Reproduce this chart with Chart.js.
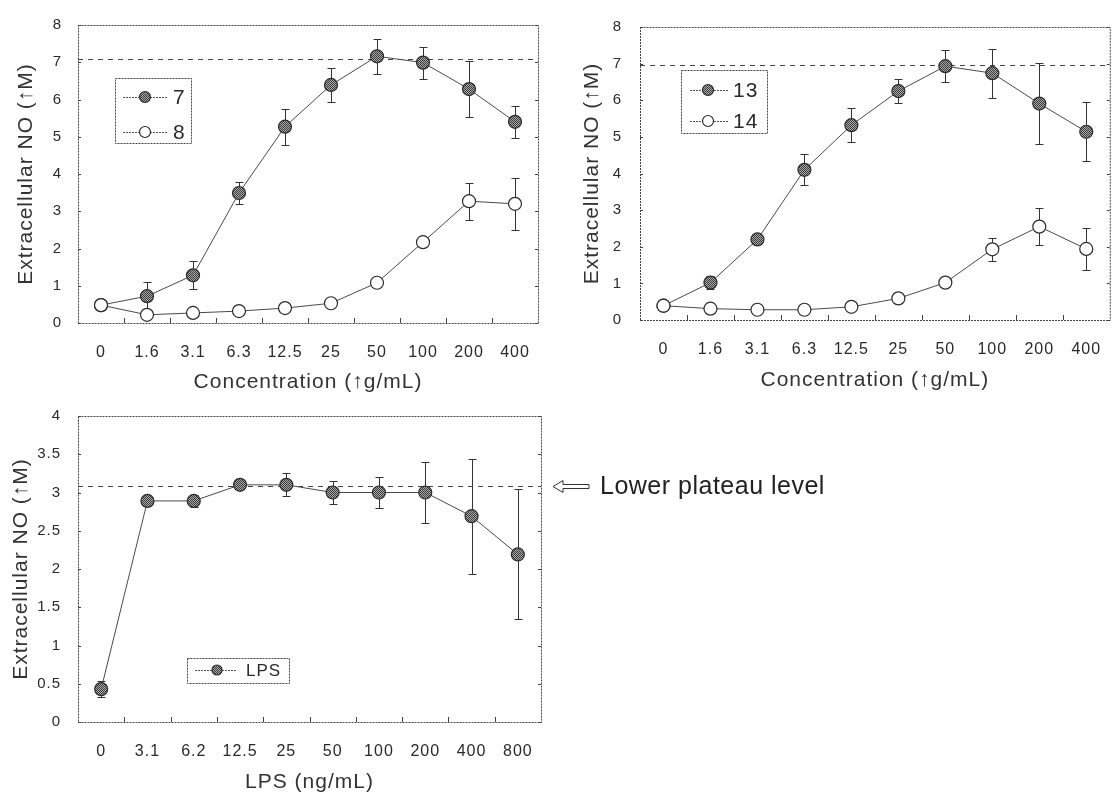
<!DOCTYPE html>
<html>
<head>
<meta charset="utf-8">
<script src="https://cdn.jsdelivr.net/npm/chart.js@4.4.1/dist/chart.umd.min.js"></script>
<style>
  html, body { margin: 0; padding: 0; background: #fff; }
  body { width: 1112px; height: 797px; overflow: hidden; position: relative; }
  canvas { position: absolute; }
</style>
</head>
<body>
<canvas id="c1" width="560" height="400" style="left:0;top:0"></canvas>
<canvas id="c2" width="560" height="400" style="left:560px;top:0"></canvas>
<canvas id="c3" width="900" height="407" style="left:0;top:390px"></canvas>
<script>
// ===== Data =====
const CONC_LABELS = ["0", "1.6", "3.1", "6.3", "12.5", "25", "50", "100", "200", "400"];
const LPS_LABELS = ["0", "3.1", "6.2", "12.5", "25", "50", "100", "200", "400", "800"];

const NO_7 = [0.48, 0.72, 1.28, 3.49, 5.27, 6.39, 7.16, 6.99, 6.28, 5.4];
const ERR_7 = [0, 0.37, 0.38, 0.3, 0.48, 0.45, 0.47, 0.43, 0.76, 0.43];
const NO_8 = [0.48, 0.22, 0.27, 0.32, 0.4, 0.53, 1.08, 2.17, 3.27, 3.2];
const ERR_8 = [0, 0, 0, 0, 0, 0, 0, 0, 0.5, 0.7];

const NO_13 = [0.39, 1.02, 2.2, 4.1, 5.32, 6.25, 6.93, 6.74, 5.91, 5.14];
const ERR_13 = [0, 0.18, 0.08, 0.42, 0.47, 0.33, 0.44, 0.67, 1.1, 0.81];
const NO_14 = [0.39, 0.31, 0.28, 0.28, 0.36, 0.59, 1.02, 1.93, 2.55, 1.94];
const ERR_14 = [0, 0, 0, 0, 0, 0, 0, 0.32, 0.5, 0.57];

const NO_LPS = [0.43, 2.89, 2.89, 3.1, 3.1, 3.0, 3.0, 3.0, 2.69, 2.19];
const ERR_LPS = [0.1, 0.07, 0.08, 0.04, 0.15, 0.15, 0.2, 0.4, 0.75, 0.85];

const REF_A = 7.08;    // dashed plateau line, compounds 7/8
const REF_B = 6.95;    // compounds 13/14
const REF_LPS = 3.08;  // lower plateau level

const FONT = "'Liberation Sans', Arial, sans-serif";
const TICK_FONT = "'Liberation Sans Narrow', 'Liberation Sans', Arial, sans-serif";
const INK = "#2a2a2a";

// ===== Marker fill (scanned hatch look) =====
function hatch() {
  const c = document.createElement("canvas");
  c.width = 4; c.height = 4;
  const g = c.getContext("2d");
  g.fillStyle = "#a8a8a8";
  g.fillRect(0, 0, 4, 4);
  g.fillStyle = "#3c3c3c";
  for (let i = 0; i < 4; i++) {
    g.fillRect(i, i, 1, 1);
    g.fillRect(i, (i + 2) % 4, 1, 1);
  }
  return g.createPattern(c, "repeat");
}
const HATCH = hatch();

// ===== Plugins =====
const spacing = {
  id: "spacing",
  beforeDraw(chart) { chart.ctx.letterSpacing = "1px"; },
};

// frame, inner ticks, dashed reference line and error bars
const frame = {
  id: "frame",
  beforeDatasetsDraw(chart, args, o) {
    const { ctx, chartArea: a, scales: { x, y } } = chart;
    ctx.save();
    ctx.strokeStyle = "#444";
    ctx.lineWidth = 1;
    ctx.setLineDash([2, 1]);
    ctx.strokeRect(a.left + 0.5, a.top + 0.5, a.width, a.height);
    ctx.setLineDash([]);

    ctx.beginPath();
    y.ticks.forEach((t) => {
      const py = Math.round(y.getPixelForValue(t.value)) + 0.5;
      ctx.moveTo(a.left, py); ctx.lineTo(a.left + 3, py);
      ctx.moveTo(a.right, py); ctx.lineTo(a.right - 3, py);
    });
    for (let i = 0; i < x.ticks.length - 1; i++) {
      const px = Math.round((x.getPixelForValue(i) + x.getPixelForValue(i + 1)) / 2) + 0.5;
      ctx.moveTo(px, a.bottom); ctx.lineTo(px, a.bottom - 5);
    }
    ctx.stroke();

    const ry = Math.round(y.getPixelForValue(o.ref)) + 0.5;
    ctx.setLineDash([5, 5]);
    ctx.beginPath();
    ctx.moveTo(a.left, ry); ctx.lineTo(a.right, ry);
    ctx.stroke();
    ctx.setLineDash([]);

    ctx.strokeStyle = "#333";
    chart.data.datasets.forEach((ds, di) => {
      const meta = chart.getDatasetMeta(di);
      (ds.errors || []).forEach((e, i) => {
        if (!e) return;
        const px = Math.round(meta.data[i].x) + 0.5;
        const top = Math.round(y.getPixelForValue(ds.data[i] + e)) + 0.5;
        const bot = Math.round(y.getPixelForValue(ds.data[i] - e)) + 0.5;
        ctx.beginPath();
        ctx.moveTo(px, top); ctx.lineTo(px, bot);
        ctx.moveTo(px - 4, top); ctx.lineTo(px + 4, top);
        ctx.moveTo(px - 4, bot); ctx.lineTo(px + 4, bot);
        ctx.stroke();
      });
    });
    ctx.restore();
  },
};

// boxed legend inside the plot
const boxLegend = {
  id: "boxLegend",
  afterDatasetsDraw(chart, args, o) {
    const { ctx, chartArea: a } = chart;
    const bx = Math.round(a.left + o.x), by = Math.round(a.top + o.y);
    ctx.save();
    ctx.fillStyle = "#fff";
    ctx.fillRect(bx, by, o.w, o.h);
    ctx.strokeStyle = "#444";
    ctx.lineWidth = 1;
    ctx.setLineDash([2, 1]);
    ctx.strokeRect(bx + 0.5, by + 0.5, o.w, o.h);
    chart.data.datasets.forEach((ds, i) => {
      const ry = by + o.rows[i];
      ctx.setLineDash([2, 1]);
      ctx.strokeStyle = "#555";
      ctx.lineWidth = 1;
      ctx.beginPath();
      ctx.moveTo(bx + o.line[0], ry + 0.5);
      ctx.lineTo(bx + o.line[1], ry + 0.5);
      ctx.stroke();
      ctx.setLineDash([]);
      ctx.beginPath();
      ctx.arc(bx + o.mark, ry, o.r, 0, Math.PI * 2);
      ctx.fillStyle = ds.pointBackgroundColor;
      ctx.fill();
      ctx.strokeStyle = ds.pointBorderColor;
      ctx.lineWidth = ds.pointBorderWidth;
      ctx.stroke();
      ctx.fillStyle = INK;
      ctx.font = o.font + "px " + FONT;
      ctx.textBaseline = "middle";
      ctx.fillText(ds.label, bx + o.text, ry + 1);
    });
    ctx.restore();
  },
};

// "Lower plateau level" note with hollow arrow
const plateauNote = {
  id: "plateauNote",
  afterDraw(chart, args, o) {
    if (!o.text) return;
    const { ctx, scales: { y } } = chart;
    const cy = Math.round(y.getPixelForValue(o.ref)) + 0.5;
    const x0 = o.x;
    ctx.save();
    ctx.strokeStyle = "#333";
    ctx.fillStyle = "#fff";
    ctx.lineWidth = 1;
    ctx.beginPath();
    ctx.moveTo(x0, cy);
    ctx.lineTo(x0 + 10, cy - 6);
    ctx.lineTo(x0 + 10, cy - 2);
    ctx.lineTo(x0 + 36, cy - 2);
    ctx.lineTo(x0 + 36, cy + 2);
    ctx.lineTo(x0 + 10, cy + 2);
    ctx.lineTo(x0 + 10, cy + 6);
    ctx.closePath();
    ctx.fill();
    ctx.stroke();
    ctx.letterSpacing = "0.5px";
    ctx.fillStyle = "#222";
    ctx.font = o.size + "px " + FONT;
    ctx.textBaseline = "middle";
    ctx.fillText(o.text, x0 + 47, cy + 1);
    ctx.restore();
  },
};

// ===== Builders =====
function series(label, data, errors, filled) {
  return {
    label, data, errors,
    borderColor: "#4a4a4a",
    borderWidth: 1,
    pointRadius: 6.5,
    pointHoverRadius: 6.5,
    pointBackgroundColor: filled ? HATCH : "#fff",
    pointBorderColor: "#2a2a2a",
    pointBorderWidth: 1.2,
    order: filled ? 1 : 0,
    tension: 0,
    clip: false,
  };
}

function makeChart(id, labels, datasets, cfg) {
  return new Chart(document.getElementById(id), {
    type: "line",
    data: { labels, datasets },
    options: {
      responsive: false,
      animation: false,
      events: [],
      layout: { padding: { left: 0, top: cfg.top, right: cfg.right, bottom: 0 } },
      scales: {
        x: {
          type: "category",
          offset: true,
          grid: { display: false, drawTicks: false },
          border: { display: false },
          ticks: { color: INK, padding: 20, maxRotation: 0, autoSkip: false, font: { size: 16, family: TICK_FONT } },
          title: { display: true, text: cfg.xTitle, color: "#333", font: { size: 21, family: FONT }, padding: { top: 0, bottom: cfg.xTitlePad } },
          afterFit: (s) => { s.height = cfg.xH; },
        },
        y: {
          min: cfg.yMin, max: cfg.yMax,
          grid: { display: false, drawTicks: false },
          border: { display: false },
          ticks: {
            stepSize: cfg.yStep, color: INK, padding: cfg.yTickPad,
            font: { size: 15, family: TICK_FONT },
            callback: (v) => String(v),
          },
          title: { display: true, text: "Extracellular NO (\u2191M)", color: "#333", font: { size: 21, family: FONT }, padding: { top: cfg.yTitlePad, bottom: 0 } },
          afterFit: (s) => { s.width = cfg.yW; },
        },
      },
      plugins: {
        legend: { display: false },
        tooltip: { enabled: false },
        frame: { ref: cfg.ref },
        boxLegend: cfg.legend,
        plateauNote: cfg.note || {},
      },
    },
    plugins: [spacing, frame, boxLegend, plateauNote],
  });
}

// ===== Charts =====
makeChart("c1", CONC_LABELS,
  [series("7", NO_7, ERR_7, true), series("8", NO_8, ERR_8, false)],
  {
    top: 20, right: 22, yW: 78, xH: 77, yMin: 0, yMax: 8, yStep: 1, ref: REF_A,
    xTitle: "Concentration (\u2191g/mL)", xTitlePad: 5, yTickPad: 16, yTitlePad: 14,
    legend: { x: 37, y: 53, w: 76, h: 65, rows: [19, 54], line: [8, 52], mark: 30, r: 5.5, text: 58, font: 21 },
  });

makeChart("c2", CONC_LABELS,
  [series("13", NO_13, ERR_13, true), series("14", NO_14, ERR_14, false)],
  {
    top: 14, right: 5, yW: 80, xH: 80, yMin: 0, yMax: 8, yStep: 1, ref: REF_B,
    xTitle: "Concentration (\u2191g/mL)", xTitlePad: 7, yTickPad: 18, yTitlePad: 20,
    legend: { x: 41, y: 43, w: 86, h: 63, rows: [20, 51], line: [9, 47], mark: 27, r: 5.5, text: 52, font: 21 },
  });

makeChart("c3", LPS_LABELS,
  [series("LPS", NO_LPS, ERR_LPS, true)],
  {
    top: 26, right: 359, yW: 78, xH: 75, yMin: 0, yMax: 4, yStep: 0.5, ref: REF_LPS,
    xTitle: "LPS (ng/mL)", xTitlePad: 2, yTickPad: 17, yTitlePad: 9,
    legend: { x: 109, y: 242, w: 102, h: 25, rows: [12], line: [8, 50], mark: 30, r: 5, text: 59, font: 17 },
    note: { ref: REF_LPS, x: 553, size: 25, text: "Lower plateau level" },
  });
</script>
</body>
</html>
